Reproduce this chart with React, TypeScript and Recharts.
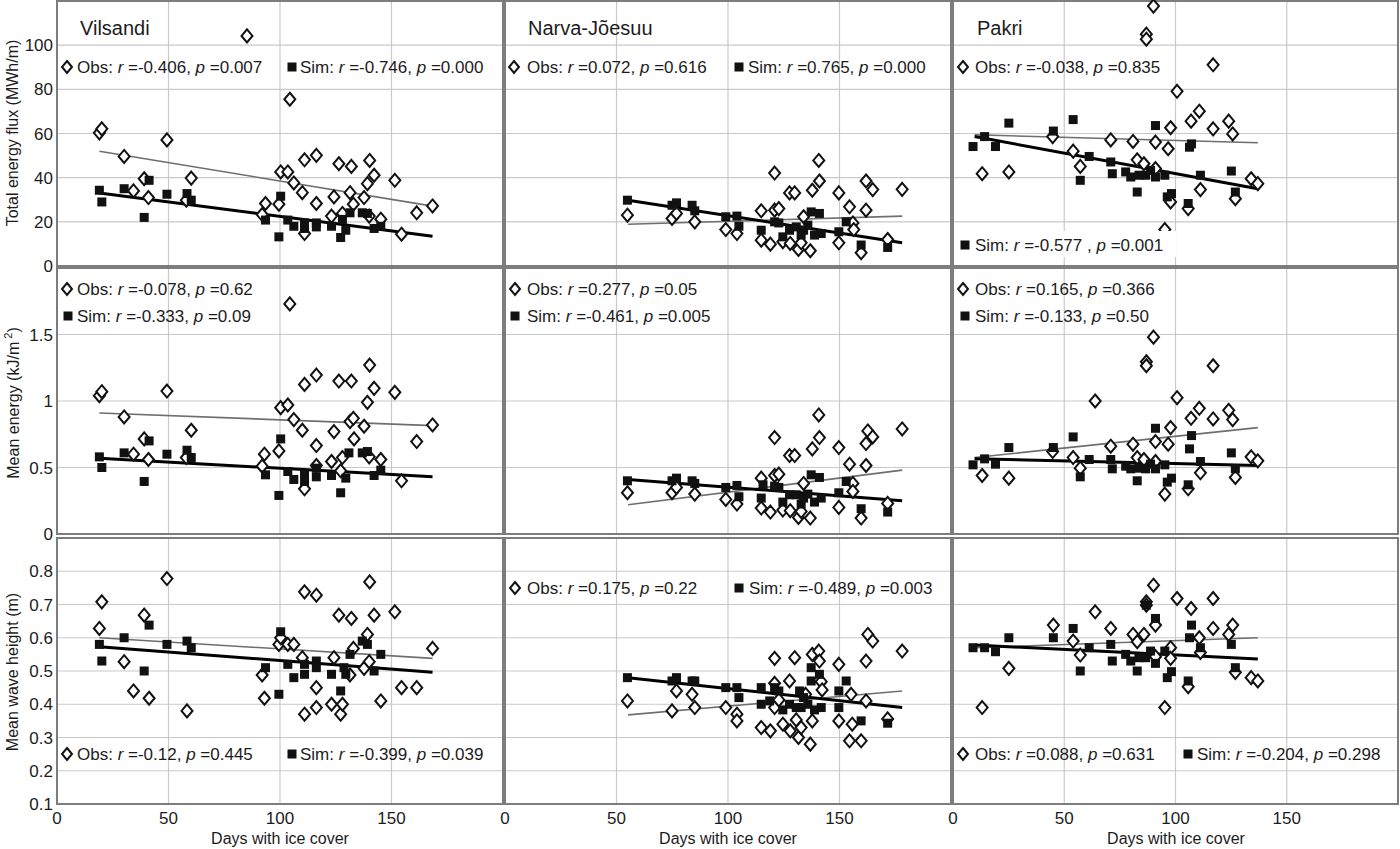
import React from 'react';
import { ScatterChart, Scatter, XAxis, YAxis, CartesianGrid, ReferenceLine, ReferenceArea } from 'recharts';

type Pt = [number, number];

// ---------- axis ticks ----------
const xTicks = [0, 50, 100, 150];
const fluxTicks = [0, 20, 40, 60, 80, 100];
const energyTicks = [0, 0.5, 1, 1.5];
const waveTicks = [0.1, 0.2, 0.3, 0.4, 0.5, 0.6, 0.7, 0.8];
const xDomain: [number, number] = [0, 200];
const fluxDomain: [number, number] = [0, 120];
const energyDomain: [number, number] = [0, 2];
const waveDomain: [number, number] = [0.1, 0.9];

const stations = ['Vilsandi', 'Narva-Jõesuu', 'Pakri'];
const xTitle = 'Days with ice cover';

// ---------- Vilsandi: total energy flux ----------
const vilsandiFluxObs: Pt[] = [[19, 60.3], [20.1, 62.1], [30.1, 49.6], [34.3, 34], [39.1, 39.5], [41, 31], [49.3, 57.1], [58, 29.8], [60.2, 39.8], [85.2, 104.2], [92, 23.3], [93.5, 28.3], [99.5, 28], [100.3, 42.6], [103.5, 42.6], [104.4, 75.5], [106.2, 37.6], [110, 33.2], [111, 48.1], [111, 14.7], [116.3, 50.1], [116.3, 28.3], [123.1, 22.6], [124.2, 31.3], [126.4, 46.3], [128, 23.8], [131.4, 33.2], [132, 45.1], [132.9, 28], [137.7, 31], [139.2, 37.3], [140.2, 47.8], [142.2, 41.1], [140, 22.6], [145.2, 21.2], [151.5, 38.8], [154.5, 14.4], [161.3, 24.1], [168.4, 27.2]];
const vilsandiFluxSim: Pt[] = [[19, 34.3], [20.1, 29], [30.1, 35], [39.1, 22], [41.3, 38.8], [49.3, 32.5], [58.3, 32.8], [60.2, 29.8], [93.5, 20.8], [99.5, 13.2], [100.3, 31.6], [103.5, 20.8], [106.2, 18], [111, 19.5], [111, 17], [116.3, 19.5], [116.3, 17.7], [123.1, 18], [127.2, 12.9], [128, 21.1], [129.5, 16.2], [131.4, 24.1], [136.9, 24.1], [139.2, 23.8], [142.2, 17], [145.2, 18]];
const vilsandiFluxObsFit = [19, 52.0, 168.4, 27.1];
const vilsandiFluxSimFit = [19, 33.1, 168.4, 13.5];
const vilsandiFluxStats = ['-0.406', '0.007', '-0.746', '0.000'];

// ---------- Narva-Jõesuu: total energy flux ----------
const narvaFluxObs: Pt[] = [[54.9, 23], [74.9, 21.5], [76.9, 23.8], [85.1, 20], [99, 16.5], [104, 14.7], [114.9, 25], [114.9, 11.7], [119, 9.9], [120.9, 42.1], [120.9, 25.3], [122.8, 26], [124.6, 11], [127.6, 33.1], [129.9, 33.1], [127.9, 10.2], [131.6, 7.5], [132.8, 10.5], [133.9, 22.3], [136.9, 6.9], [137.8, 34.3], [140.7, 47.8], [141, 38.5], [149.7, 33.1], [149.7, 10.5], [154.5, 26.8], [156, 19.5], [156.4, 16.5], [159.7, 6], [161.9, 38.5], [161.9, 25.3], [164.9, 34.6], [171.6, 12], [178.1, 34.7]];
const narvaFluxSim: Pt[] = [[54.9, 29.8], [74.9, 27.5], [76.9, 28.6], [83.9, 27.5], [85.1, 25], [99, 22.3], [104, 22.6], [104.9, 18], [114.9, 16.2], [120.9, 20], [122.8, 19.5], [124.6, 13.2], [127.6, 16.2], [130.6, 17.7], [132.8, 14], [133.9, 16.2], [135.8, 18.5], [137.3, 24.5], [138.8, 14], [141, 23.8], [141.8, 14.7], [149.7, 15.5], [153, 20], [159.7, 9.5], [171.6, 8.4]];
const narvaFluxObsFit = [55.2, 18.9, 178.1, 22.6];
const narvaFluxSimFit = [55.2, 29.8, 178.1, 10.5];
const narvaFluxStats = ['0.072', '0.616', '0.765', '0.000'];

// ---------- Pakri: total energy flux ----------
const pakriFluxObs: Pt[] = [[90.1, 117.7], [86.9, 105], [86.9, 102.7], [116.9, 91.1], [100.7, 79.1], [110.7, 70.1], [107, 65.6], [97.8, 62.6], [116.9, 62.1], [123.9, 65.6], [125.7, 59.8], [44.8, 58.6], [70.9, 57.1], [80.9, 56.4], [91, 56.1], [96.7, 53.1], [54, 52], [57.2, 45.1], [82.8, 48.1], [85.8, 46.3], [91, 44.1], [13.1, 41.8], [25.1, 42.6], [111.2, 34.6], [97.8, 29], [105.7, 26], [126.9, 30.5], [134, 39.5], [137, 37.3], [95.2, 16.5]];
const pakriFluxSim: Pt[] = [[9, 54.1], [14.2, 58.6], [19.1, 54.1], [25.1, 64.7], [45.1, 61.1], [54, 66.3], [57.2, 38.8], [61.2, 49.6], [70.9, 47.1], [71.6, 41.8], [77.6, 42.6], [79.9, 40.3], [82.8, 33.5], [83.6, 41.1], [86.6, 41.1], [88.8, 43.3], [91, 63.6], [91, 40.3], [95.2, 41.1], [96.3, 31.3], [98.2, 32.8], [105.7, 28.3], [106.3, 53.8], [107.2, 55.3], [111.2, 41.1], [125.1, 43], [126.9, 33.5]];
const pakriFluxObsFit = [9.7, 59.4, 137, 55.8];
const pakriFluxSimFit = [9.7, 58.6, 137, 35.0];
const pakriFluxStats = ['-0.038', '0.835', '-0.577 ', '0.001'];

// ---------- Vilsandi: mean energy ----------
const vilsandiEnergyObs: Pt[] = [[19, 1.04], [20.1, 1.07], [30.1, 0.88], [34.3, 0.6], [39.1, 0.715], [41, 0.56], [49.3, 1.075], [58, 0.575], [60.2, 0.78], [92, 0.51], [93, 0.6], [99.5, 0.625], [100.3, 0.95], [103.5, 0.97], [104.4, 1.73], [106.2, 0.86], [110, 0.78], [111, 1.125], [111, 0.34], [116.3, 1.195], [116.3, 0.665], [116.3, 0.515], [123.1, 0.545], [124.2, 0.77], [126.4, 1.15], [127.2, 0.475], [128, 0.575], [131.4, 0.845], [132, 1.15], [132.9, 0.87], [133.2, 0.715], [137.7, 0.81], [139.2, 0.99], [140, 0.58], [140.2, 1.27], [142.2, 1.095], [145.2, 0.56], [151.5, 1.065], [154.5, 0.4], [161.3, 0.695], [168.4, 0.82]];
const vilsandiEnergySim: Pt[] = [[19, 0.58], [20.1, 0.5], [30.1, 0.61], [39.1, 0.395], [41.3, 0.7], [49.3, 0.6], [58.3, 0.63], [60.2, 0.575], [93.5, 0.445], [99.5, 0.29], [100.3, 0.715], [103.5, 0.47], [106.2, 0.41], [111, 0.45], [111, 0.395], [116.3, 0.495], [116.3, 0.43], [123.1, 0.44], [127.2, 0.31], [129.5, 0.42], [130.9, 0.61], [136.9, 0.61], [139.2, 0.62], [142.2, 0.44], [145.2, 0.48]];
const vilsandiEnergyObsFit = [19, 0.91, 168.4, 0.815];
const vilsandiEnergySimFit = [19, 0.57, 168.4, 0.43];
const vilsandiEnergyStats = ['-0.078', '0.62', '-0.333', '0.09'];

// ---------- Narva-Jõesuu: mean energy ----------
const narvaEnergyObs: Pt[] = [[54.9, 0.31], [74.9, 0.31], [76.9, 0.35], [85.1, 0.3], [99, 0.26], [104, 0.225], [114.9, 0.42], [114.9, 0.195], [119, 0.165], [120.9, 0.725], [120.9, 0.44], [122.8, 0.45], [124.6, 0.18], [127.6, 0.59], [129.9, 0.59], [127.9, 0.175], [131.6, 0.125], [132.8, 0.17], [133.9, 0.38], [136.9, 0.12], [137.8, 0.64], [140.7, 0.895], [141, 0.725], [149.7, 0.65], [149.7, 0.2], [154.5, 0.525], [156, 0.38], [156, 0.32], [159.7, 0.12], [161.9, 0.68], [161.9, 0.515], [162.7, 0.775], [164.9, 0.73], [171.6, 0.23], [178.1, 0.79]];
const narvaEnergySim: Pt[] = [[54.9, 0.4], [74.9, 0.4], [76.9, 0.42], [83.9, 0.4], [85.1, 0.38], [99, 0.35], [104, 0.365], [104.9, 0.28], [114.9, 0.27], [115.7, 0.37], [120.9, 0.36], [122.8, 0.35], [124.6, 0.24], [127.6, 0.295], [130.6, 0.295], [132.8, 0.225], [133.9, 0.27], [135.8, 0.3], [137.3, 0.445], [138.8, 0.24], [141, 0.425], [141.8, 0.27], [149.7, 0.31], [153, 0.395], [159.7, 0.19], [171.6, 0.165]];
const narvaEnergyObsFit = [55.2, 0.22, 178.1, 0.48];
const narvaEnergySimFit = [55.2, 0.41, 178.1, 0.25];
const narvaEnergyStats = ['0.277', '0.05', '-0.461', '0.005'];

// ---------- Pakri: mean energy ----------
const pakriEnergyObs: Pt[] = [[90.1, 1.48], [86.9, 1.295], [86.9, 1.265], [116.9, 1.265], [100.7, 1.025], [63.9, 1.0], [110.7, 0.945], [107, 0.87], [97.8, 0.8], [116.9, 0.865], [123.9, 0.93], [125.7, 0.86], [44.8, 0.62], [70.9, 0.66], [80.9, 0.675], [91, 0.695], [96.7, 0.675], [54, 0.575], [57.2, 0.495], [82.8, 0.575], [85.8, 0.56], [91, 0.545], [13.1, 0.44], [25.1, 0.42], [111.2, 0.46], [95.2, 0.3], [105.7, 0.34], [126.9, 0.425], [134, 0.58], [137, 0.55]];
const pakriEnergySim: Pt[] = [[9, 0.52], [14.2, 0.565], [19.1, 0.525], [25.1, 0.65], [45.1, 0.65], [54, 0.73], [57.2, 0.43], [61.2, 0.56], [70.9, 0.56], [71.6, 0.49], [77.6, 0.51], [79.9, 0.49], [82.8, 0.4], [83.6, 0.495], [86.6, 0.49], [88.8, 0.525], [91, 0.795], [91, 0.49], [95.2, 0.52], [96.3, 0.39], [98.2, 0.42], [105.7, 0.37], [106.3, 0.64], [107.2, 0.74], [111.2, 0.545], [125.1, 0.61], [126.9, 0.49]];
const pakriEnergyObsFit = [9.7, 0.575, 137, 0.8];
const pakriEnergySimFit = [9.7, 0.565, 137, 0.515];
const pakriEnergyStats = ['0.165', '0.366', '-0.133', '0.50'];

// ---------- Vilsandi: mean wave height ----------
const vilsandiWaveObs: Pt[] = [[19, 0.628], [20.1, 0.708], [30.1, 0.528], [34.3, 0.44], [39.1, 0.668], [41.3, 0.418], [49.3, 0.778], [58.3, 0.38], [92, 0.488], [93, 0.418], [99.5, 0.58], [100.3, 0.6], [103.5, 0.58], [106.2, 0.58], [110, 0.54], [111, 0.738], [111, 0.37], [116.3, 0.728], [116.3, 0.45], [116.3, 0.39], [123.1, 0.4], [124.2, 0.54], [126.4, 0.668], [127.2, 0.37], [128, 0.4], [131.4, 0.488], [132, 0.658], [132.9, 0.568], [137.7, 0.508], [139.2, 0.61], [140, 0.528], [140.2, 0.768], [142.2, 0.668], [145.2, 0.41], [151.5, 0.678], [154.5, 0.45], [161.3, 0.45], [168.4, 0.568]];
const vilsandiWaveSim: Pt[] = [[19, 0.58], [20.1, 0.53], [30.1, 0.6], [39.1, 0.5], [41.3, 0.638], [49.3, 0.58], [58.3, 0.59], [60.2, 0.57], [93.5, 0.51], [99.5, 0.43], [100.3, 0.618], [103.5, 0.52], [106.2, 0.48], [111, 0.52], [111, 0.49], [116.3, 0.53], [116.3, 0.51], [123.1, 0.49], [127.2, 0.44], [128.7, 0.51], [129.5, 0.49], [131.4, 0.55], [136.9, 0.59], [139.2, 0.58], [142.2, 0.5], [145.2, 0.55]];
const vilsandiWaveObsFit = [19, 0.6, 168.4, 0.538];
const vilsandiWaveSimFit = [19, 0.573, 168.4, 0.496];
const vilsandiWaveStats = ['-0.12', '0.445', '-0.399', '0.039'];

// ---------- Narva-Jõesuu: mean wave height ----------
const narvaWaveObs: Pt[] = [[54.9, 0.41], [74.9, 0.38], [76.9, 0.44], [83.9, 0.43], [85.1, 0.39], [99, 0.39], [104, 0.37], [104, 0.35], [114.9, 0.33], [119, 0.32], [120.9, 0.538], [120.9, 0.463], [120.9, 0.39], [122.8, 0.413], [124.6, 0.34], [127.6, 0.47], [127.9, 0.32], [129.9, 0.54], [130.6, 0.353], [131.6, 0.3], [132.8, 0.33], [134.8, 0.43], [136.9, 0.28], [137.8, 0.55], [137.8, 0.35], [140.7, 0.56], [141, 0.53], [141.8, 0.468], [142.2, 0.443], [149.7, 0.52], [149.7, 0.35], [155.2, 0.43], [155.7, 0.34], [154.5, 0.29], [159.7, 0.29], [161.9, 0.53], [161.9, 0.41], [162.7, 0.61], [164.9, 0.59], [171.6, 0.356], [178.1, 0.56]];
const narvaWaveSim: Pt[] = [[54.9, 0.48], [74.9, 0.47], [76.9, 0.48], [83.9, 0.47], [85.1, 0.47], [99, 0.45], [104, 0.45], [104.9, 0.42], [114.9, 0.45], [114.9, 0.4], [118.7, 0.41], [120.9, 0.45], [122.8, 0.44], [124.6, 0.383], [127.6, 0.4], [130.6, 0.39], [132.1, 0.44], [132.8, 0.39], [133.9, 0.42], [135.8, 0.4], [137.3, 0.51], [137.3, 0.47], [138.8, 0.383], [141, 0.49], [141.8, 0.39], [149.7, 0.44], [149.7, 0.39], [153, 0.47], [159.7, 0.35], [171.6, 0.343]];
const narvaWaveObsFit = [55.2, 0.368, 178.1, 0.44];
const narvaWaveSimFit = [55.2, 0.48, 178.1, 0.39];
const narvaWaveStats = ['0.175', '0.22', '-0.489', '0.003'];

// ---------- Pakri: mean wave height ----------
const pakriWaveObs: Pt[] = [[13.1, 0.39], [25.1, 0.508], [45.1, 0.638], [54, 0.59], [57.2, 0.548], [63.9, 0.678], [70.9, 0.628], [80.9, 0.61], [82.8, 0.588], [85.8, 0.61], [86.9, 0.708], [86.9, 0.698], [90.1, 0.758], [91, 0.638], [91, 0.543], [95.2, 0.39], [97.8, 0.57], [97.8, 0.538], [100.7, 0.718], [105.7, 0.453], [107, 0.688], [110.7, 0.6], [111.2, 0.556], [116.9, 0.718], [116.9, 0.628], [123.9, 0.61], [125.7, 0.638], [126.9, 0.496], [134, 0.48], [137, 0.47]];
const pakriWaveSim: Pt[] = [[9, 0.57], [14.2, 0.57], [19.1, 0.558], [25.1, 0.6], [45.1, 0.6], [54, 0.628], [57.2, 0.5], [61.2, 0.57], [70.9, 0.58], [71.6, 0.53], [77.6, 0.55], [79.9, 0.53], [82.8, 0.5], [83.6, 0.54], [86.6, 0.54], [86.9, 0.698], [88.8, 0.56], [91, 0.658], [91, 0.523], [95.2, 0.56], [96.3, 0.48], [98.2, 0.498], [105.7, 0.47], [106.3, 0.6], [107.2, 0.638], [111.2, 0.57], [125.1, 0.58], [126.9, 0.51]];
const pakriWaveObsFit = [9.7, 0.57, 137, 0.6];
const pakriWaveSimFit = [9.7, 0.578, 137, 0.536];
const pakriWaveStats = ['0.088', '0.631', '-0.204', '0.298'];

// ---------- layout ----------
const FONT = '"Liberation Sans", Arial, Helvetica, sans-serif';
const TEXT = '#1c1c1c';
const colLeft = [57, 505, 953];
const colWidth = [446, 446, 445];
const rowTop = [1, 268, 538];
const rowHeight = [265, 266, 266];
const M = 12;

const toPts = (a: Pt[]) => a.map(([x, y]) => ({ x, y }));

const Diamond = (props: any) => {
  const { cx, cy } = props;
  if (cx == null || cy == null) return null;
  return <path d={`M${cx},${cy - 6.5}L${cx + 5.5},${cy}L${cx},${cy + 6.5}L${cx - 5.5},${cy}Z`} fill="#fff" stroke="#111" strokeWidth={2} />;
};
const Square = (props: any) => {
  const { cx, cy } = props;
  if (cx == null || cy == null) return null;
  return <rect x={cx - 4.5} y={cy - 4.5} width={9} height={9} fill="#111" />;
};
const NoTick = () => <g />;

interface PanelProps {
  row: number;
  col: number;
  obs: Pt[];
  sim: Pt[];
  obsFit: number[];
  simFit: number[];
  domain: [number, number];
  ticks: number[];
}

function Panel({ row, col, obs, sim, obsFit, simFit, domain, ticks }: PanelProps) {
  const showY = col === 0;
  const showX = row === 2;
  const yW = showY ? 57 : 0;
  const xH = showX ? 30 : 0;
  const width = colWidth[col] + yW + 2 * M;
  const height = rowHeight[row] + xH + 2 * M;
  const left = colLeft[col] - yW - M;
  const top = rowTop[row] - M;
  const tickStyle = { fontSize: 17, fill: TEXT, fontFamily: FONT };
  return (
    <div style={{ position: 'absolute', left, top, width, height }}>
      <ScatterChart width={width} height={height} margin={{ top: M, right: M, bottom: M, left: M }}>
        <CartesianGrid stroke="#c9c9c9" strokeWidth={1.2} />
        <XAxis
          type="number"
          dataKey="x"
          domain={xDomain}
          ticks={xTicks}
          interval={0}
          height={xH}
          tick={showX ? tickStyle : NoTick}
          axisLine={false}
          tickLine={false}
          tickSize={0}
          tickMargin={8}
        />
        <YAxis
          type="number"
          dataKey="y"
          domain={domain}
          ticks={ticks}
          interval={0}
          width={yW}
          tick={showY ? tickStyle : NoTick}
          axisLine={false}
          tickLine={false}
          tickSize={0}
          tickMargin={4}
        />
        <Scatter data={toPts(obs)} shape={Diamond} isAnimationActive={false} />
        <Scatter data={toPts(sim)} shape={Square} isAnimationActive={false} />
        <ReferenceLine
          segment={[{ x: obsFit[0], y: obsFit[1] }, { x: obsFit[2], y: obsFit[3] }]}
          stroke="#6e6e6e"
          strokeWidth={1.6}
          ifOverflow="visible"
        />
        <ReferenceLine
          segment={[{ x: simFit[0], y: simFit[1] }, { x: simFit[2], y: simFit[3] }]}
          stroke="#000"
          strokeWidth={3}
          ifOverflow="visible"
        />
        <ReferenceArea x1={xDomain[0]} x2={xDomain[1]} y1={domain[0]} y2={domain[1]} fill="none" stroke="#7d7d7d" strokeWidth={2} ifOverflow="visible" />
      </ScatterChart>
    </div>
  );
}

function Stat({ x, y, label, r, p }: { x: number; y: number; label: string; r: string; p: string }) {
  return (
    <text x={x} y={y} fontSize={17} fill={TEXT} fontFamily={FONT} dominantBaseline="central">
      {`${label}: `}
      <tspan fontStyle="italic">r</tspan>
      {` =${r}, `}
      <tspan fontStyle="italic">p</tspan>
      {` =${p}`}
    </text>
  );
}

const LDiamond = ({ x, y }: { x: number; y: number }) => (
  <path d={`M${x},${y - 6}L${x + 5},${y}L${x},${y + 6}L${x - 5},${y}Z`} fill="#fff" stroke="#111" strokeWidth={2} />
);
const LSquare = ({ x, y }: { x: number; y: number }) => <rect x={x - 4.5} y={y - 4.5} width={9} height={9} fill="#111" />;

function Entry({ kind, x, y, tx, r, p }: { kind: 'obs' | 'sim'; x: number; y: number; tx: number; r: string; p: string }) {
  return (
    <g>
      {kind === 'obs' ? <LDiamond x={x} y={y} /> : <LSquare x={x} y={y} />}
      <Stat x={tx} y={y} label={kind === 'obs' ? 'Obs' : 'Sim'} r={r} p={p} />
    </g>
  );
}

export default function App() {
  const panels: PanelProps[] = [
    { row: 0, col: 0, obs: vilsandiFluxObs, sim: vilsandiFluxSim, obsFit: vilsandiFluxObsFit, simFit: vilsandiFluxSimFit, domain: fluxDomain, ticks: fluxTicks },
    { row: 0, col: 1, obs: narvaFluxObs, sim: narvaFluxSim, obsFit: narvaFluxObsFit, simFit: narvaFluxSimFit, domain: fluxDomain, ticks: fluxTicks },
    { row: 0, col: 2, obs: pakriFluxObs, sim: pakriFluxSim, obsFit: pakriFluxObsFit, simFit: pakriFluxSimFit, domain: fluxDomain, ticks: fluxTicks },
    { row: 1, col: 0, obs: vilsandiEnergyObs, sim: vilsandiEnergySim, obsFit: vilsandiEnergyObsFit, simFit: vilsandiEnergySimFit, domain: energyDomain, ticks: energyTicks },
    { row: 1, col: 1, obs: narvaEnergyObs, sim: narvaEnergySim, obsFit: narvaEnergyObsFit, simFit: narvaEnergySimFit, domain: energyDomain, ticks: energyTicks },
    { row: 1, col: 2, obs: pakriEnergyObs, sim: pakriEnergySim, obsFit: pakriEnergyObsFit, simFit: pakriEnergySimFit, domain: energyDomain, ticks: energyTicks },
    { row: 2, col: 0, obs: vilsandiWaveObs, sim: vilsandiWaveSim, obsFit: vilsandiWaveObsFit, simFit: vilsandiWaveSimFit, domain: waveDomain, ticks: waveTicks },
    { row: 2, col: 1, obs: narvaWaveObs, sim: narvaWaveSim, obsFit: narvaWaveObsFit, simFit: narvaWaveSimFit, domain: waveDomain, ticks: waveTicks },
    { row: 2, col: 2, obs: pakriWaveObs, sim: pakriWaveSim, obsFit: pakriWaveObsFit, simFit: pakriWaveSimFit, domain: waveDomain, ticks: waveTicks },
  ];
  const S = [vilsandiFluxStats, narvaFluxStats, pakriFluxStats, vilsandiEnergyStats, narvaEnergyStats, pakriEnergyStats, vilsandiWaveStats, narvaWaveStats, pakriWaveStats];
  const titleStyle = { fontSize: 16, fill: TEXT, fontFamily: FONT } as const;
  return (
    <div style={{ position: 'absolute', left: 0, top: 0, width: 1400, height: 849, background: '#fff', overflow: 'hidden' }}>
      {panels.map((p, i) => (
        <Panel key={i} {...p} />
      ))}
      <svg width={1400} height={849} style={{ position: 'absolute', left: 0, top: 0, pointerEvents: 'none' }}>
        {/* station names */}
        <text x={80} y={35} fontSize={20} fill={TEXT} fontFamily={FONT}>{stations[0]}</text>
        <text x={528} y={35} fontSize={20} fill={TEXT} fontFamily={FONT}>{stations[1]}</text>
        <text x={977} y={35} fontSize={20} fill={TEXT} fontFamily={FONT}>{stations[2]}</text>

        {/* row 1 */}
        <Entry kind="obs" x={67} y={67} tx={77} r={S[0][0]} p={S[0][1]} />
        <Entry kind="sim" x={292} y={67} tx={300} r={S[0][2]} p={S[0][3]} />
        <Entry kind="obs" x={514} y={67} tx={527} r={S[1][0]} p={S[1][1]} />
        <Entry kind="sim" x={739} y={67} tx={748} r={S[1][2]} p={S[1][3]} />
        <Entry kind="obs" x={963} y={67} tx={975} r={S[2][0]} p={S[2][1]} />
        <rect x={958} y={231} width={218} height={26} fill="#fff" />
        <Entry kind="sim" x={965} y={245} tx={975} r={S[2][2]} p={S[2][3]} />

        {/* row 2 */}
        <Entry kind="obs" x={67} y={289} tx={77} r={S[3][0]} p={S[3][1]} />
        <Entry kind="sim" x={68} y={316} tx={77} r={S[3][2]} p={S[3][3]} />
        <Entry kind="obs" x={515} y={289} tx={527} r={S[4][0]} p={S[4][1]} />
        <Entry kind="sim" x={515} y={316} tx={527} r={S[4][2]} p={S[4][3]} />
        <Entry kind="obs" x={963} y={289} tx={975} r={S[5][0]} p={S[5][1]} />
        <Entry kind="sim" x={965} y={316} tx={975} r={S[5][2]} p={S[5][3]} />

        {/* row 3 */}
        <Entry kind="obs" x={67} y={754} tx={77} r={S[6][0]} p={S[6][1]} />
        <Entry kind="sim" x={292} y={754} tx={300} r={S[6][2]} p={S[6][3]} />
        <Entry kind="obs" x={515} y={588} tx={527} r={S[7][0]} p={S[7][1]} />
        <Entry kind="sim" x={739} y={588} tx={749} r={S[7][2]} p={S[7][3]} />
        <Entry kind="obs" x={963} y={754} tx={975} r={S[8][0]} p={S[8][1]} />
        <Entry kind="sim" x={1188} y={754} tx={1197} r={S[8][2]} p={S[8][3]} />

        {/* y axis titles */}
        <text transform="translate(12,133) rotate(-90)" textAnchor="middle" dominantBaseline="central" {...titleStyle}>Total energy flux (MWh/m)</text>
        <text transform="translate(13,403) rotate(-90)" textAnchor="middle" dominantBaseline="central" {...titleStyle}>
          Mean energy (kJ/m<tspan dy={-5} fontSize={11}> 2</tspan><tspan dy={5}>)</tspan>
        </text>
        <text transform="translate(12,672) rotate(-90)" textAnchor="middle" dominantBaseline="central" {...titleStyle}>Mean wave height (m)</text>

        {/* x axis titles */}
        <text x={280} y={838} textAnchor="middle" dominantBaseline="central" {...titleStyle}>{xTitle}</text>
        <text x={728} y={838} textAnchor="middle" dominantBaseline="central" {...titleStyle}>{xTitle}</text>
        <text x={1176} y={838} textAnchor="middle" dominantBaseline="central" {...titleStyle}>{xTitle}</text>
      </svg>
    </div>
  );
}
